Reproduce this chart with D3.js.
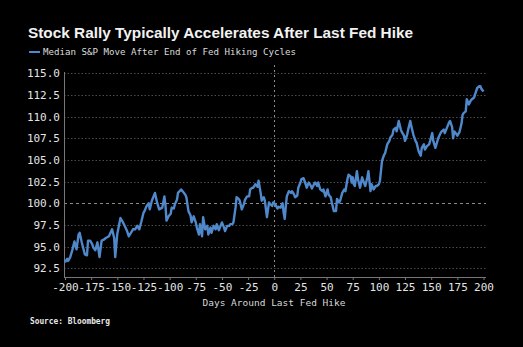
<!DOCTYPE html>
<html>
<head>
<meta charset="utf-8">
<script src="https://cdn.jsdelivr.net/npm/d3@7"></script>
<style>
  html, body { margin: 0; padding: 0; background: #000; }
  svg { display: block; }
</style>
</head>
<body>
<div id="vis"></div>
<script>
// Median S&P move around the last Fed hike
var days = [-200,-198,-197,-195,-193,-191,-189,-187,-186,-184,-181,-179,-178,-176,-174,-173,-171,-169,-167,-165,
  -163,-161,-158,-155,-153,-152,-150,-147,-145,-143,-141,-139,-137,-135,-133,-131,-129,-127,-125,-124,
  -122,-120,-119,-117,-114,-112,-110,-107,-105,-104,-103,-101,-99,-98,-96,-95,-93,-92,-89,-87,
  -85,-84,-82,-80,-79,-77,-75,-74,-72,-71,-69,-68,-66,-64,-63,-61,-60,-58,-56,-55,
  -53,-52,-50,-48,-47,-45,-43,-42,-40,-39,-37,-36,-34,-33,-31,-29,-28,-26,-24,-23,
  -21,-20,-18,-16,-15,-13,-12,-10,-9,-7,-5,-4,-2,-1,1,3,4,6,8,9,
  10,11,12,14,16,17,19,20,22,23,25,26,28,30,31,33,35,36,38,39,
  41,42,44,46,47,49,51,52,54,55,57,59,60,62,63,65,67,68,70,71,
  73,74,75,76,77,79,80,82,84,85,87,89,90,92,93,95,97,98,100,101,
  103,105,106,108,110,111,113,114,116,117,119,121,122,124,125,127,128,130,131,133,
  135,136,138,140,141,143,144,146,148,149,151,152,154,156,157,159,160,162,163,165,
  167,168,170,171,172,174,175,177,179,180,181,183,184,186,188,189,191,192,194,196,
  197,198,200];
var values = [93.2,93.6,93.35,93.8,94.6,95.6,94.7,96.4,96.6,95.5,94.1,94.0,95.7,95.7,95.3,94.9,94.6,95.5,93.8,95.7,
  95.8,96.0,96.2,97.0,96.0,93.8,96.5,98.3,97.9,97.4,96.9,96.2,96.6,97.0,97.0,97.4,97.0,97.9,98.9,99.1,
  99.7,100.0,99.3,100.3,101.2,100.1,99.3,99.5,100.8,99.8,98.0,98.5,98.8,99.5,99.4,99.9,100.4,101.2,101.6,101.3,
  101.0,100.7,99.1,98.6,97.8,98.5,97.8,97.2,96.4,97.6,96.2,98.4,97.0,97.4,96.4,97.2,96.6,97.4,97.0,97.6,
  96.9,97.2,97.8,97.2,96.8,97.4,97.4,97.6,97.6,97.8,99.5,100.7,100.5,100.3,99.3,99.9,100.4,100.8,100.8,101.6,
  101.8,101.8,102.2,101.9,102.6,101.2,100.3,100.7,100.3,98.4,100.1,99.9,99.7,100.1,99.9,99.4,99.6,99.5,100.0,98.9,
  98.2,99.6,100.8,101.4,101.2,101.4,101.0,100.7,100.9,101.8,102.4,102.8,102.9,102.2,101.8,102.4,102.0,101.7,102.2,102.4,
  102.0,102.4,101.6,101.4,101.6,100.8,101.6,101.0,100.7,100.1,99.1,99.1,100.5,100.1,100.3,101.2,101.6,101.4,102.8,103.3,
  103.1,102.4,103.0,102.2,102.0,103.7,102.8,101.8,103.0,102.6,102.0,103.0,103.7,101.4,102.2,101.6,102.0,102.0,102.2,102.6,
  104.9,105.6,105.8,106.8,107.2,107.6,107.9,108.5,108.7,108.3,109.5,108.5,108.2,107.8,107.2,107.9,108.5,109.5,108.9,107.9,
  107.2,107.0,106.0,105.5,106.4,106.8,106.2,106.6,106.8,107.2,108.1,107.2,106.4,107.2,107.6,108.1,108.3,108.5,108.1,108.7,
  109.3,109.5,108.8,107.5,108.3,108.0,107.8,108.2,109.2,110.2,110.4,110.6,112.0,111.4,111.9,112.0,112.2,112.6,113.3,113.5,
  113.5,113.2,112.9];
var xTicks = [-200,-175,-150,-125,-100,-75,-50,-25,0,25,50,75,100,125,150,175,200];
var yTicks = [92.5,95.0,97.5,100.0,102.5,105.0,107.5,110.0,112.5,115.0];

var width = 523;
var height = 347;
var lineColor = '#5088cc';
var mono = '"DejaVu Sans Mono", "Liberation Mono", monospace';

var svg = d3.select('#vis')
  .append('svg')
  .attr('width', width)
  .attr('height', height)
  .style('background', '#000');

var x = d3.scaleLinear().domain([-200, 200]).range([65, 483.5]);
var y = d3.scaleLinear().domain([91.5, 116]).range([277, 64.6]);

// gridlines
svg.append('g').selectAll('line')
  .data(yTicks)
  .enter().append('line')
  .attr('x1', 64)
  .attr('x2', 486)
  .attr('y1', function (d) { return Math.round(y(d)) + 0.5; })
  .attr('y2', function (d) { return Math.round(y(d)) + 0.5; })
  .attr('stroke', function (d) { return d === 100 ? '#8a8a8a' : '#4a4a4a'; })
  .attr('stroke-width', 1)
  .attr('stroke-dasharray', function (d) { return d === 100 ? '3,3' : '1.5,2'; });

// zero day marker
svg.append('line')
  .attr('x1', Math.round(x(0)) + 0.5)
  .attr('x2', Math.round(x(0)) + 0.5)
  .attr('y1', 65)
  .attr('y2', 277)
  .attr('stroke', '#8a8a8a')
  .attr('stroke-dasharray', '2,3');

// y axis
var yAxis = d3.axisLeft(y)
  .tickValues(yTicks)
  .tickSize(0)
  .tickPadding(4)
  .tickFormat(d3.format('.1f'));

var gy = svg.append('g')
  .attr('transform', 'translate(64,0)')
  .call(yAxis);
gy.select('.domain').remove();
gy.selectAll('text')
  .attr('fill', '#e4e4e4')
  .style('font-family', mono)
  .style('font-size', '11px');
svg.append('line')
  .attr('x1', 64.5).attr('x2', 64.5)
  .attr('y1', 72).attr('y2', 277)
  .attr('stroke', '#777');

// x axis
var xAxis = d3.axisBottom(x)
  .tickValues(xTicks)
  .tickSize(3)
  .tickPadding(3)
  .tickFormat(d3.format('d'));

var gx = svg.append('g')
  .attr('transform', 'translate(0,277)')
  .call(xAxis);
gx.select('.domain')
  .attr('d', 'M64,0.5H486')
  .attr('stroke', '#777');
gx.selectAll('.tick line').attr('stroke', '#777');
gx.selectAll('text')
  .attr('fill', '#e4e4e4')
  .style('font-family', mono)
  .style('font-size', '11px')
  .text(function (d) { return d < 0 ? '-' + (-d) : d; });

// the series
var pts = days.map(function (d, i) { return { day: d, value: values[i] }; });
var line = d3.line()
  .x(function (d) { return x(d.day); })
  .y(function (d) { return y(d.value); });

svg.append('path')
  .datum(pts)
  .attr('d', line)
  .attr('fill', 'none')
  .attr('stroke', lineColor)
  .attr('stroke-width', 2.4)
  .attr('stroke-linejoin', 'round');

// titles
svg.append('text')
  .attr('x', 28)
  .attr('y', 38)
  .attr('fill', '#f2f2f2')
  .attr('textLength', 385)
  .attr('lengthAdjust', 'spacingAndGlyphs')
  .style('font-family', '"Liberation Sans", Arial, sans-serif')
  .style('font-weight', 'bold')
  .style('font-size', '14.5px')
  .text('Stock Rally Typically Accelerates After Last Fed Hike');

svg.append('line')
  .attr('x1', 29).attr('x2', 40)
  .attr('y1', 52).attr('y2', 52)
  .attr('stroke', lineColor)
  .attr('stroke-width', 2);

svg.append('text')
  .attr('x', 43)
  .attr('y', 55)
  .attr('fill', '#dcdcdc')
  .attr('textLength', 253)
  .attr('lengthAdjust', 'spacingAndGlyphs')
  .style('font-family', mono)
  .style('font-size', '9.5px')
  .text('Median S&P Move After End of Fed Hiking Cycles');

svg.append('text')
  .attr('x', 274)
  .attr('y', 306)
  .attr('text-anchor', 'middle')
  .attr('fill', '#d8d8d8')
  .style('font-family', mono)
  .style('font-size', '9.5px')
  .text('Days Around Last Fed Hike');

svg.append('text')
  .attr('x', 30)
  .attr('y', 324)
  .attr('fill', '#e8e8e8')
  .attr('textLength', 80)
  .attr('lengthAdjust', 'spacingAndGlyphs')
  .style('font-family', mono)
  .style('font-weight', 'bold')
  .style('font-size', '8px')
  .text('Source: Bloomberg');
</script>
</body>
</html>
